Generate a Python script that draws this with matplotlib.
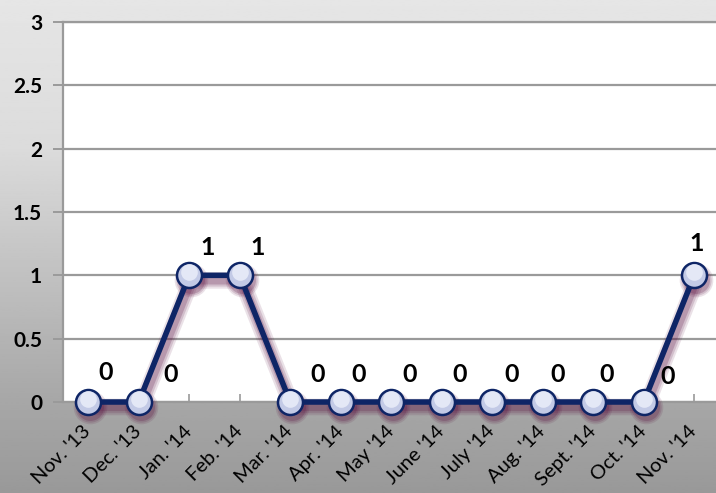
import numpy as np
import matplotlib
matplotlib.use("Agg")
import matplotlib.pyplot as plt
import matplotlib.transforms as mtransforms

# chart data
months = ["Nov. '13", "Dec. '13", "Jan. '14", "Feb. '14", "Mar. '14", "Apr. '14",
          "May '14", "June '14", "July '14", "Aug. '14", "Sept. '14", "Oct. '14", "Nov. '14"]
counts = [0, 0, 1, 1, 0, 0, 0, 0, 0, 0, 0, 0, 1]
y_ticks = [0, 0.5, 1, 1.5, 2, 2.5, 3]
y_tick_labels = ["0", "0.5", "1", "1.5", "2", "2.5", "3"]

# label placement (pixels right / up from each point), as in the original
label_offsets = [(17, 30), (32, 27), (18, 28), (18, 28), (27, 27), (18, 27), (18, 27),
                 (18, 27), (19, 27), (15, 27), (13, 27), (24, 25), (2, 32)]

navy = "#0e2566"
grid_gray = "#9a9a9a"
shadow = "#5a1040"
font = "Lato"

fig = plt.figure(figsize=(7.16, 4.93), dpi=100)

# grey gradient behind everything
bg = fig.add_axes([0, 0, 1, 1], zorder=-10)
rows = np.linspace(0, 1, 200)
shade = np.interp(rows, [0, 0.3, 0.8, 1.0], [0.90, 0.86, 0.66, 0.60])
bg.imshow(shade[:, None], cmap="gray", vmin=0, vmax=1, aspect="auto",
          extent=[0, 1, 0, 1], origin="upper")
bg.axis("off")

ax = fig.add_axes([63 / 716, 91 / 493, 656.5 / 716, 380 / 493])
ax.set_facecolor("white")
x = np.arange(len(months))
ax.set_xlim(-0.5, len(months) - 0.5)
ax.set_ylim(0, 3)

ax.set_yticks(y_ticks)
ax.set_yticklabels(y_tick_labels, fontsize=15, fontweight="bold", family=font)
ax.yaxis.grid(True, color=grid_gray, lw=1.6)
ax.set_axisbelow(True)
ax.tick_params(axis="y", direction="out", length=7, width=1.4, color=grid_gray, pad=8)

ax.set_xticks(x)
ax.set_xticklabels(months, rotation=45, ha="right", va="center",
                   rotation_mode="anchor", fontsize=14.5, family=font)
ax.tick_params(axis="x", direction="in", length=6, width=1.2, color=grid_gray, pad=19)

ax.spines["right"].set_visible(False)
for side in ["left", "bottom", "top"]:
    ax.spines[side].set_color(grid_gray)
    ax.spines[side].set_linewidth(1.6)

# soft shadow under line and markers
for grow, alpha in [(9, 0.12), (6, 0.16), (3, 0.22)]:
    tr = mtransforms.offset_copy(ax.transData, fig=fig, x=2, y=-5, units="dots")
    ax.plot(x, counts, color=shadow, lw=3 + grow, marker="o", ms=17 + grow * 0.8,
            mew=0, alpha=alpha, transform=tr, clip_on=False, zorder=3,
            solid_capstyle="round")

ax.plot(x, counts, color=navy, lw=4, marker="o", ms=18, mfc="#c3cae6",
        mec=navy, mew=1.8, clip_on=False, zorder=4)
# lighter upper part of the marker faces
tr_up = mtransforms.offset_copy(ax.transData, fig=fig, x=0, y=3, units="dots")
ax.plot(x, counts, ls="none", marker="o", ms=12, mfc="#e8ecf8", mew=0,
        alpha=0.9, transform=tr_up, clip_on=False, zorder=5)

for xi, val, (dx, dy) in zip(x, counts, label_offsets):
    ax.annotate(str(val), (xi, val), xytext=(dx, dy), textcoords="offset pixels",
                ha="center", va="center", fontsize=18, fontweight="bold",
                family=font, color="black", zorder=6)

fig.savefig("out.png", dpi=100)
